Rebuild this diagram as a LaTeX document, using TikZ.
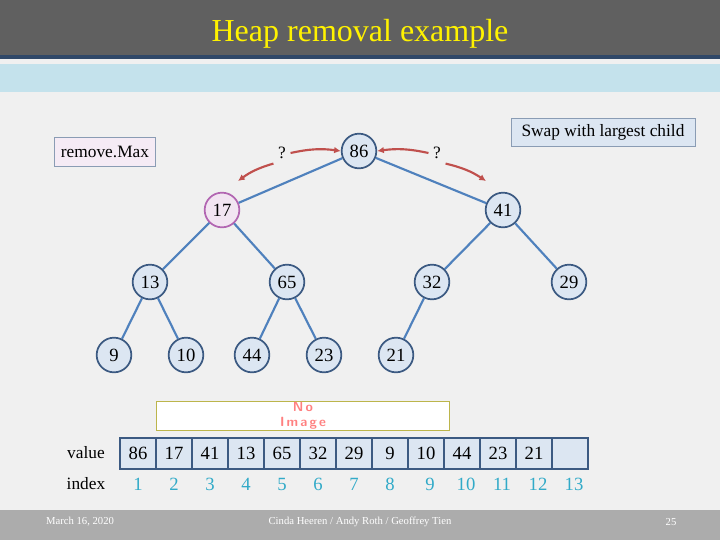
\documentclass[tikz,border=0pt]{standalone}
\usepackage{fontspec}
\setmainfont{Liberation Serif}
\usetikzlibrary{calc,arrows.meta}
\definecolor{nodefill}{RGB}{220,230,242}
\definecolor{nodeline}{RGB}{60,90,130}
\definecolor{edgecol}{RGB}{79,129,189}
\definecolor{arrowcol}{RGB}{192,80,77}
\definecolor{idxcol}{RGB}{49,170,200}
\definecolor{bandcol}{RGB}{196,226,236}
\tikzset{
  heap/.style={circle,draw=nodeline,line width=1.3pt,fill=nodefill,minimum size=26pt,inner sep=0pt,font=\fontsize{14}{14}\selectfont},
  edge/.style={draw=edgecol,line width=1.6pt},
  swap/.style={-{Latex[length=5pt,width=5pt]},draw=arrowcol,line width=1.6pt},
  cell/.style={draw=nodeline,line width=1.8pt,fill=nodefill,minimum width=27pt,minimum height=23.25pt,inner sep=0pt,font=\fontsize{14}{14}\selectfont}
}
\begin{document}
\begin{tikzpicture}[x=0.75pt,y=-0.75pt]
  \useasboundingbox (0,0) rectangle (720,540);
  %% Background and header bands
  \fill[gray!12!white] (0,0) rectangle (720,540);
  \fill[gray!75!black] (0,0) rectangle (720,55);
  \fill[nodeline!80!black] (0,55) rectangle (720,59);
  \fill[bandcol] (0,64) rectangle (720,92);
  \fill[gray!65] (0,510) rectangle (720,540);
  \node[text=yellow,font=\fontsize{24}{24}\selectfont] (title) at (360,34) {Heap removal example};

  %% Text boxes
  \node[draw=nodeline!60,fill=violet!8,minimum width=76pt,minimum height=22pt,font=\fontsize{13}{13}\selectfont] (remove) at (105,152) {remove.Max};
  \node[draw=nodeline!60,fill=nodefill,minimum width=138pt,minimum height=21pt,font=\fontsize{13}{13}\selectfont] (note) at (603,132) {Swap with largest child};

  %% The heap
  \node[heap] (n86) at (359,151) {86};
  \node[heap,draw=violet!60,fill=violet!10] (n17) at (222,210) {17};
  \node[heap] (n41) at (503,210) {41};
  \node[heap] (n13) at (150,282) {13};
  \node[heap] (n65) at (287,282) {65};
  \node[heap] (n32) at (432,282) {32};
  \node[heap] (n29) at (569,282) {29};
  \node[heap] (n9)  at (114,355) {9};
  \node[heap] (n10) at (186,355) {10};
  \node[heap] (n44) at (252,355) {44};
  \node[heap] (n23) at (324,355) {23};
  \node[heap] (n21) at (396,355) {21};
  \foreach \a/\b in {86/17,86/41,17/13,17/65,41/32,41/29,13/9,13/10,65/44,65/23,32/21}
    \path[edge] (n\a) -- (n\b);

  %% Question arrows
  \node[font=\fontsize{13}{13}\selectfont] (qL) at (282,153) {?};
  \node[font=\fontsize{13}{13}\selectfont] (qR) at (437,153) {?};
  \coordinate (qLa) at (238,181);
  \coordinate (qRa) at (486,181);
  \draw[swap] (qL.east) to[bend left=10] (n86.west);
  \draw[swap] (qL.south west) to[bend right=10] (qLa);
  \draw[swap] (qR.west) to[bend right=10] (n86.east);
  \draw[swap] (qR.south east) to[bend left=10] (qRa);

  %% Placeholder image
  \node[draw=olive!60,fill=white,minimum width=220pt,minimum height=22pt,text=red!50,font=\sffamily\bfseries\fontsize{10}{11}\selectfont,align=center,inner sep=1pt] (noimg) at (303,416) {N\,o\\I\,m\,a\,g\,e};

  %% Array
  \node[font=\fontsize{13}{13}\selectfont] (value) at (86,453) {value};
  \node[font=\fontsize{13}{13}\selectfont] (index) at (86,484) {index};
  \foreach \v [count=\i] in {86,17,41,13,65,32,29,9,10,44,23,21,{}}
  {
    \node[cell] (c\i) at ({120+36*(\i-0.5)},453.5) {\v};
    \node[text=idxcol,font=\fontsize{14}{14}\selectfont] (i\i) at ({120+36*(\i-0.5)+(\i>8?4:0)},484) {\i};
  }

  %% Footer
  \node[text=white,font=\fontsize{8}{8}\selectfont] (date) at (80,522) {March 16, 2020};
  \node[text=white,font=\fontsize{8}{8}\selectfont] (auth) at (360,522) {Cinda Heeren / Andy Roth / Geoffrey Tien};
  \node[text=white,font=\fontsize{8}{8}\selectfont] (page) at (671,522) {25};
\end{tikzpicture}
\end{document}
